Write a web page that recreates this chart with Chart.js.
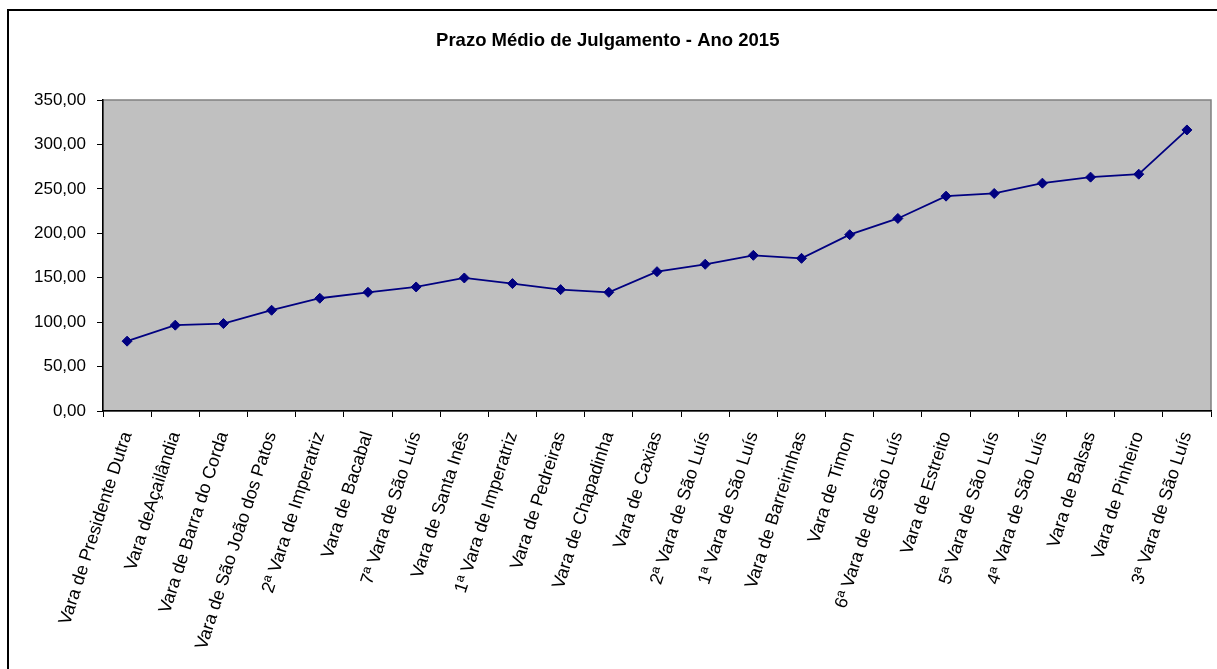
<!DOCTYPE html>
<html>
<head>
<meta charset="utf-8">
<script src="https://cdn.jsdelivr.net/npm/chart.js@4/dist/chart.umd.min.js"></script>
<style>
  html, body { margin: 0; padding: 0; background: #ffffff; overflow: hidden; }
  #wrap { position: absolute; left: 0; top: 0; width: 1217px; height: 669px; }
</style>
</head>
<body>
<div id="wrap"><canvas id="c" width="1217" height="669"></canvas></div>
<script>
const chartTitle = 'Prazo Médio de Julgamento - Ano 2015';
const categories = [
  'Vara de Presidente Dutra',
  'Vara deAçailândia',
  'Vara de Barra do Corda',
  'Vara de São João dos Patos',
  '2ª Vara de Imperatriz',
  'Vara de Bacabal',
  '7ª Vara de São Luís',
  'Vara de Santa Inês',
  '1ª Vara de Imperatriz',
  'Vara de Pedreiras',
  'Vara de Chapadinha',
  'Vara de Caxias',
  '2ª Vara de São Luís',
  '1ª Vara de São Luís',
  'Vara de Barreirinhas',
  'Vara de Timon',
  '6ª Vara de de São Luís',
  'Vara de Estreito',
  '5ª Vara de São Luís',
  '4ª Vara de São Luís',
  'Vara de Balsas',
  'Vara de Pinheiro',
  '3ª Vara de São Luís'
];
const prazoMedio = [
  78.6, 96.6, 98.4, 113.4, 126.9, 133.6, 139.6, 149.7, 143.4, 136.6, 133.6, 156.8,
  165.1, 175.2, 171.8, 198.4, 216.7, 241.8, 244.8, 256.4, 263.2, 266.5, 316.3
];
const yTickValues = [0, 50, 100, 150, 200, 250, 300, 350];
const yTickLabels = ['0,00', '50,00', '100,00', '150,00', '200,00', '250,00', '300,00', '350,00'];

const W = 1217, H = 669;
const PLOT_LEFT = 103, PLOT_TOP = 100, PLOT_BOTTOM = 411;
const TITLE_SIZE = 18.5;

const framePlugin = {
  id: 'frame',
  beforeDraw(chart) {
    const ctx = chart.ctx;
    const a = chart.chartArea;
    ctx.save();
    ctx.fillStyle = '#ffffff';
    ctx.fillRect(0, 0, W, H);
    ctx.strokeStyle = '#000000';
    ctx.lineWidth = 2;
    ctx.strokeRect(8, 10, W + 20, H + 20);
    ctx.fillStyle = '#C0C0C0';
    ctx.fillRect(a.left, a.top, a.right - a.left, a.bottom - a.top);
    ctx.strokeStyle = '#808080';
    ctx.lineWidth = 1.5;
    ctx.strokeRect(a.left, a.top, a.right - a.left, a.bottom - a.top);
    ctx.restore();
  }
};

new Chart(document.getElementById('c'), {
  type: 'line',
  data: {
    labels: categories,
    datasets: [{
      label: 'Prazo Médio',
      data: prazoMedio,
      borderColor: '#000080',
      backgroundColor: '#000080',
      borderWidth: 1.8,
      pointStyle: 'rectRot',
      pointRadius: 5,
      pointHoverRadius: 5,
      pointBackgroundColor: '#000080',
      pointBorderColor: '#000080',
      pointBorderWidth: 1,
      tension: 0,
      fill: false
    }]
  },
  options: {
    responsive: false,
    animation: false,
    devicePixelRatio: 1,
    layout: { padding: { left: 0, right: 1.5, top: 0, bottom: 0 } },
    plugins: {
      legend: { display: false },
      tooltip: { enabled: false },
      title: {
        display: true,
        text: chartTitle,
        color: '#000000',
        font: { family: 'Liberation Sans, Arial, sans-serif', size: TITLE_SIZE, weight: 'bold', lineHeight: 1.2 },
        padding: { top: 30, bottom: PLOT_TOP - 30 - TITLE_SIZE * 1.2 }
      }
    },
    scales: {
      x: {
        type: 'category',
        offset: true,
        grid: {
          offset: true,
          drawOnChartArea: false,
          drawTicks: true,
          tickLength: 6,
          tickColor: '#000000',
          tickWidth: 1
        },
        border: { display: true, color: '#000000', width: 1.5 },
        ticks: {
          color: '#000000',
          font: { family: 'Liberation Sans, Arial, sans-serif', size: 18 },
          minRotation: 72,
          maxRotation: 72,
          autoSkip: false,
          padding: 12
        },
        afterFit(scale) {
          scale.height = H - PLOT_BOTTOM;
          scale.paddingLeft = 0;
          scale.paddingRight = 0;
        }
      },
      y: {
        min: 0,
        max: 350,
        afterBuildTicks(scale) { scale.ticks = yTickValues.map(v => ({ value: v })); },
        grid: {
          drawOnChartArea: false,
          drawTicks: true,
          tickLength: 6,
          tickColor: '#000000',
          tickWidth: 1
        },
        border: { display: true, color: '#000000', width: 1.5 },
        ticks: {
          color: '#000000',
          font: { family: 'Liberation Sans, Arial, sans-serif', size: 17 },
          padding: 11,
          callback(value) {
            const i = yTickValues.indexOf(value);
            return i >= 0 ? yTickLabels[i] : '';
          }
        },
        afterFit(scale) { scale.width = PLOT_LEFT; }
      }
    }
  },
  plugins: [framePlugin]
});
</script>
</body>
</html>
